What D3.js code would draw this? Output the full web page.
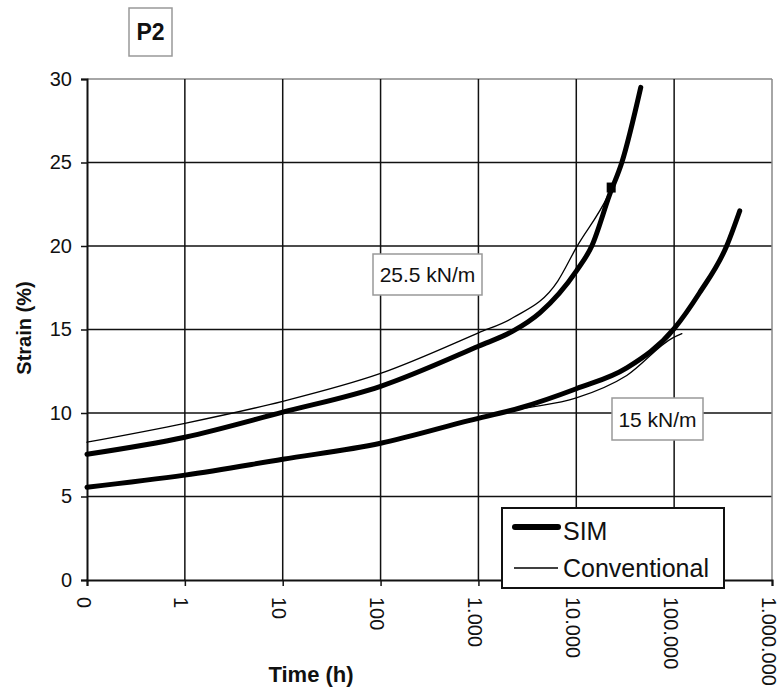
<!DOCTYPE html>
<html>
<head>
	<meta charset="UTF-8" />
	<title>P2 - strain vs time</title>
	<script src="https://cdn.jsdelivr.net/npm/d3@7"></script>
	<style>
		body { margin:0; background:#fff; }
		svg text { font-family: "Liberation Sans", Arial, sans-serif; fill:#111; }
	</style>
</head>
<body>
<div id="chart"></div>
<script type="text/javascript">

// x ticks (hours, log axis, "0" shown at the first decade)
var timeTicks = [0.1, 1, 10, 100, 1000, 10000, 100000, 1000000];
var timeLabels = ["0", "1", "10", "100", "1.000", "10.000", "100.000", "1.000.000"];
var strainTicks = [0, 5, 10, 15, 20, 25, 30];

// 25.5 kN/m
var simHighT   = [0.1, 1, 10, 100, 1000, 2245, 4240, 10000, 14400, 22000, 29200, 45600];
var simHighS   = [7.53, 8.55, 10.05, 11.6, 14.0, 14.9, 16.0, 18.5, 20.0, 23.1, 25.0, 29.5];
var convHighT  = [0.1, 1, 10, 100, 1000, 2245, 6470, 10000, 21000, 23000];
var convHighS  = [8.25, 9.38, 10.7, 12.37, 14.8, 15.7, 17.9, 19.9, 23.0, 23.5];

// 15 kN/m
var simLowT    = [0.1, 1, 10, 100, 817, 2650, 10000, 32800, 100000, 182000, 344000, 468000];
var simLowS    = [5.56, 6.28, 7.23, 8.19, 9.56, 10.3, 11.45, 12.7, 15.05, 17.2, 20.0, 22.1];
var convLowT   = [0.1, 1, 10, 100, 817, 2650, 10000, 32800, 96800, 120000];
var convLowS   = [5.5, 6.24, 7.2, 8.17, 9.54, 10.22, 10.9, 12.25, 14.5, 14.75];

var W = 779, H = 693;
var L = 87, R = 772, T = 79, B = 580;

var svg = d3.select("#chart").append("svg")
	.attr("width", W).attr("height", H);

var x = d3.scaleLog().domain([0.1, 1000000]).range([L, R]);
var y = d3.scaleLinear().domain([0, 30]).range([B, T]);

// grid
svg.append("g").selectAll("line").data(strainTicks.slice(1)).enter().append("line")
	.attr("x1", L).attr("x2", R)
	.attr("y1", function(d){ return y(d); }).attr("y2", function(d){ return y(d); })
	.attr("stroke", function(d){ return d == 30 ? "#888" : "#111"; })
	.attr("stroke-width", 1.5);
svg.append("g").selectAll("line").data(timeTicks.slice(1)).enter().append("line")
	.attr("x1", function(d){ return x(d); }).attr("x2", function(d){ return x(d); })
	.attr("y1", T).attr("y2", B)
	.attr("stroke", function(d){ return d == 1000000 ? "#888" : "#111"; })
	.attr("stroke-width", 1.5);

// axes
var yAxis = svg.append("g").attr("transform", "translate(" + L + ",0)")
	.call(d3.axisLeft(y).tickValues(strainTicks).tickSize(6).tickPadding(9));
var xAxis = svg.append("g").attr("transform", "translate(0," + B + ")")
	.call(d3.axisBottom(x).tickValues(timeTicks).tickSize(6)
		.tickFormat(function(d, i){ return timeLabels[i]; }));
[yAxis, xAxis].forEach(function(a){
	a.select(".domain").attr("stroke", "#111").attr("stroke-width", 2);
	a.selectAll(".tick line").attr("stroke", "#111").attr("stroke-width", 1.5);
	a.selectAll("text").style("font-size", "20px").attr("fill", "#111");
});
xAxis.selectAll("text")
	.attr("transform", "rotate(90)")
	.attr("x", 17).attr("y", 0).attr("dy", "0.55em")
	.attr("text-anchor", "start");

// curves
var line = d3.line().curve(d3.curveMonotoneX)
	.x(function(d){ return x(d[0]); }).y(function(d){ return y(d[1]); });
var series = [
	{t: convHighT, s: convHighS, w: 1.3},
	{t: convLowT,  s: convLowS,  w: 1.3},
	{t: simHighT,  s: simHighS,  w: 5},
	{t: simLowT,   s: simLowS,   w: 5}
];
series.forEach(function(se){
	var pts = se.t.map(function(t, i){ return [t, se.s[i]]; });
	svg.append("path").datum(pts)
		.attr("d", line)
		.attr("fill", "none").attr("stroke", "#000")
		.attr("stroke-width", se.w)
		.attr("stroke-linecap", "round").attr("stroke-linejoin", "round");
});

// end marker of conventional 25.5
var lastT = convHighT[convHighT.length-1], lastS = convHighS[convHighS.length-1];
svg.append("rect")
	.attr("x", x(lastT) - 5).attr("y", y(lastS) - 5)
	.attr("width", 9).attr("height", 10).attr("fill", "#000");

// boxed labels
var boxLabel = function(bx, by, bw, bh, txt, fs, weight) {
	svg.append("rect").attr("x", bx).attr("y", by).attr("width", bw).attr("height", bh)
		.attr("fill", "#fff").attr("stroke", "#999").attr("stroke-width", 1.5);
	svg.append("text").attr("x", bx + bw/2).attr("y", by + bh/2).attr("dy", "0.36em")
		.attr("text-anchor", "middle").style("font-size", fs + "px")
		.style("font-weight", weight || "normal").text(txt);
};
boxLabel(129, 8, 43, 48, "P2", 23, "bold");
boxLabel(373, 254, 109, 41, "25.5 kN/m", 21);
boxLabel(612, 398, 91, 42, "15 kN/m", 21);

// legend
var lg = svg.append("g");
lg.append("rect").attr("x", 502).attr("y", 508).attr("width", 222).attr("height", 80)
	.attr("fill", "#fff").attr("stroke", "#111").attr("stroke-width", 2);
lg.append("line").attr("x1", 515).attr("x2", 558).attr("y1", 527).attr("y2", 527)
	.attr("stroke", "#000").attr("stroke-width", 6).attr("stroke-linecap", "round");
lg.append("line").attr("x1", 514).attr("x2", 558).attr("y1", 568).attr("y2", 568)
	.attr("stroke", "#000").attr("stroke-width", 1.3);
lg.append("text").attr("x", 563).attr("y", 540).style("font-size", "25px").text("SIM");
lg.append("text").attr("x", 563).attr("y", 577).style("font-size", "25px").text("Conventional");

// axis titles
svg.append("text").attr("transform", "translate(31,328) rotate(-90)")
	.attr("text-anchor", "middle").style("font-size", "20px").style("font-weight", "bold")
	.text("Strain (%)");
svg.append("text").attr("x", 311).attr("y", 682)
	.attr("text-anchor", "middle").style("font-size", "22px").style("font-weight", "bold")
	.text("Time (h)");

</script>
</body>
</html>
